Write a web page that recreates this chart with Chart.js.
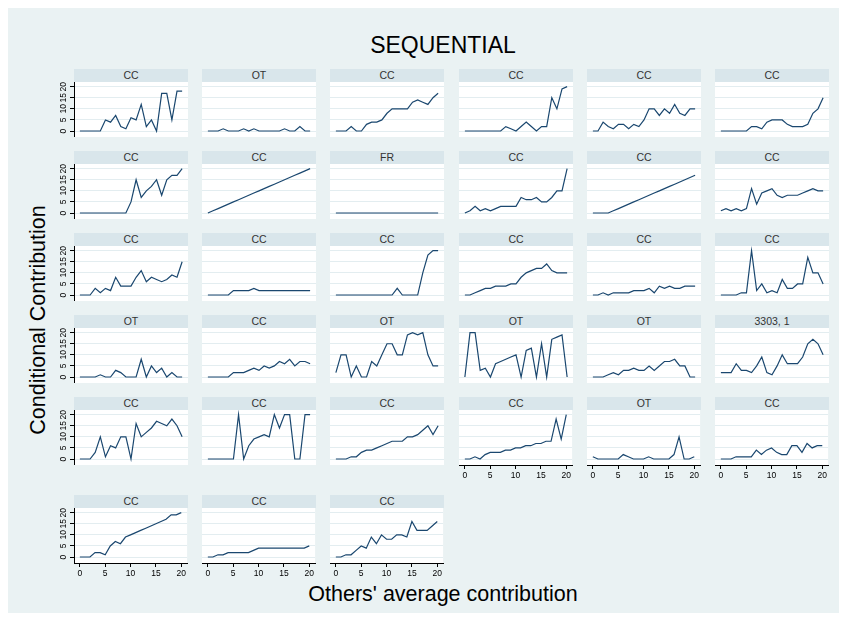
<!DOCTYPE html>
<html>
<head>
<meta charset="utf-8">
<script src="https://cdn.jsdelivr.net/npm/chart.js@4"></script>
<style>
  body { margin: 0; background: #fff; }
  #page { position: relative; width: 847px; height: 621px; overflow: hidden; background: #fff; font-family: "Liberation Sans", Arial, sans-serif; }
  #frame { position: absolute; left: 8px; top: 8px; width: 831px; height: 605px; background: #eaf2f3; }
  .hdr { position: absolute; height: 13px; line-height: 13px; background: #d9e6eb; color: #333; font-size: 10.5px; text-align: center; }
  .panel { position: absolute; }
  .txt { position: absolute; color: #000; white-space: nowrap; }
</style>
</head>
<body>
<div id="page">
  <div id="frame"></div>
  <div class="txt" id="title" style="left:0;width:886px;top:32px;text-align:center;font-size:23px;">SEQUENTIAL</div>
  <div class="txt" id="ytitle" style="left:38px;top:320px;font-size:21.5px;transform:translate(-50%,-50%) rotate(-90deg);">Conditional Contribution</div>
  <div class="txt" id="xtitle" style="left:0;width:886px;top:582px;text-align:center;font-size:21.5px;">Others' average contribution</div>
</div>
<script>
// valeurs
const xValues = [0,1,2,3,4,5,6,7,8,9,10,11,12,13,14,15,16,17,18,19,20];
const xTicks = [0,5,10,15,20];
const yTicks = [0,5,10,15,20];

const panelLabels = [
  'CC','OT','CC','CC','CC','CC',
  'CC','CC','FR','CC','CC','CC',
  'CC','CC','CC','CC','CC','CC',
  'OT','CC','OT','OT','OT','3303, 1',
  'CC','CC','CC','CC','OT','CC',
  'CC','CC','CC'
];

const p01 = [0,0,0,0,0,5,4,7,2,1,6,5,12,2,5,0,17,17,5,18,18];
const p02 = [0,0,0,1,0,0,0,1,0,1,0,0,0,0,0,1,0,0,2,0,0];
const p03 = [0,0,0,2,0,0,3,4,4,5,8,10,10,10,10,13,14,13,12,15,17];
const p04 = [0,0,0,0,0,0,0,0,2,1,0,2,4,2,0,2,2,15,10,19,20];
const p05 = [0,0,4,2,1,3,3,1,3,2,5,10,10,7,10,8,12,8,7,10,10];
const p06 = [0,0,0,0,0,0,2,2,1,4,5,5,5,3,2,2,2,3,8,10,15];
const p07 = [0,0,0,0,0,0,0,0,0,0,5,15,7,10,12,15,8,15,17,17,20];
const p08 = [0,1,2,3,4,5,6,7,8,9,10,11,12,13,14,15,16,17,18,19,20];
const p09 = [0,0,0,0,0,0,0,0,0,0,0,0,0,0,0,0,0,0,0,0,0];
const p10 = [0,1,3,1,2,1,2,3,3,3,3,7,6,6,7,5,5,7,10,10,20];
const p11 = [0,0,0,0,1,2,3,4,5,6,7,8,9,10,11,12,13,14,15,16,17];
const p12 = [1,2,1,2,1,2,11,4,9,10,11,8,7,8,8,8,9,10,11,10,10];
const p13 = [0,0,0,3,1,3,2,8,4,4,4,8,11,6,8,7,6,7,9,8,15];
const p14 = [0,0,0,0,0,2,2,2,2,3,2,2,2,2,2,2,2,2,2,2,2];
const p15 = [0,0,0,0,0,0,0,0,0,0,0,0,3,0,0,0,0,10,18,20,20];
const p16 = [0,0,1,2,3,3,4,4,4,5,5,8,10,11,12,12,14,11,10,10,10];
const p17 = [0,0,1,0,1,1,1,1,2,2,2,3,1,4,3,4,3,3,4,4,4];
const p18 = [0,0,0,0,1,1,20,2,5,1,2,1,7,3,3,5,5,17,10,10,5];
const p19 = [0,0,0,0,1,0,0,3,2,0,0,0,8,0,5,2,4,0,2,0,0];
const p20 = [0,0,0,0,0,2,2,2,3,4,3,5,4,5,7,6,8,5,7,7,6];
const p21 = [2,10,10,0,5,0,0,7,5,10,15,15,10,10,19,20,19,20,10,5,5];
const p22 = [0,20,20,3,4,0,6,7,8,9,10,0,12,13,0,15,0,17,18,19,0];
const p23 = [0,0,0,1,2,1,3,3,4,3,3,5,3,5,7,7,8,5,5,0,0];
const p24 = [2,2,2,6,3,3,2,5,9,2,1,5,10,6,6,6,9,15,17,15,10];
const p25 = [0,0,0,3,10,1,6,5,10,10,0,16,10,12,14,17,16,15,18,15,10];
const p26 = [0,0,0,0,0,0,20,0,6,9,10,11,10,20,14,20,20,0,0,20,20];
const p27 = [0,0,0,1,1,3,4,4,5,6,7,8,8,8,10,10,11,13,15,11,15];
const p28 = [0,0,1,0,2,3,3,3,4,4,5,5,6,6,7,7,8,8,18,9,20];
const p29 = [1,0,0,0,0,0,2,1,0,0,0,1,0,0,0,0,2,10,0,0,1];
const p30 = [0,0,0,1,1,1,1,4,2,4,5,3,2,2,6,6,3,7,5,6,6];
const p31 = [0,0,0,2,2,1,5,7,6,9,10,11,12,13,14,15,16,17,19,19,20];
const p32 = [0,0,1,1,2,2,2,2,2,3,4,4,4,4,4,4,4,4,4,4,5];
const p33 = [0,0,1,1,3,5,4,9,6,10,8,8,10,10,9,16,12,12,12,14,16];

const panelSeries = [p01,p02,p03,p04,p05,p06,p07,p08,p09,p10,p11,p12,p13,p14,p15,p16,p17,
  p18,p19,p20,p21,p22,p23,p24,p25,p26,p27,p28,p29,p30,p31,p32,p33];

// grille des panneaux
const colLefts = [74, 202, 330, 459, 587, 715];
const rowTops = [82, 164, 246, 328, 410, 508];
const plotW = 114, plotH = 55;
const fontFam = '"Liberation Sans", Arial, sans-serif';

// fond blanc de la zone de tracé
const whitePlot = {
  id: 'whitePlot',
  beforeDraw(chart) {
    const a = chart.chartArea, ctx = chart.ctx;
    ctx.save();
    ctx.fillStyle = '#ffffff';
    ctx.fillRect(a.left, a.top, a.right - a.left, a.bottom - a.top);
    ctx.restore();
  }
};

// étiquettes verticales de l'axe y (texte tourné comme dans Stata)
const yRotLabels = {
  id: 'yRotLabels',
  afterDraw(chart, args, opts) {
    if (!opts.show) return;
    const s = chart.scales.y, ctx = chart.ctx;
    ctx.save();
    ctx.font = '8.5px ' + fontFam;
    ctx.fillStyle = '#000';
    ctx.textAlign = 'center';
    ctx.textBaseline = 'middle';
    s.ticks.forEach(t => {
      const py = s.getPixelForValue(t.value);
      ctx.save();
      ctx.translate(s.right - 10, py);
      ctx.rotate(-Math.PI / 2);
      ctx.fillText(String(t.value), 0, 0);
      ctx.restore();
    });
    ctx.restore();
  }
};

const page = document.getElementById('page');

panelSeries.forEach((vals, i) => {
  const row = Math.floor(i / 6), col = i % 6;
  const hasY = col === 0;
  const hasX = row === 5 || (row === 4 && col >= 3);
  const padL = hasY ? 26 : 0;
  const padB = hasX ? 22 : 0;

  const hdr = document.createElement('div');
  hdr.className = 'hdr';
  hdr.style.left = colLefts[col] + 'px';
  hdr.style.top = (rowTops[row] - 13) + 'px';
  hdr.style.width = plotW + 'px';
  hdr.textContent = panelLabels[i];
  page.appendChild(hdr);

  const canvas = document.createElement('canvas');
  canvas.className = 'panel';
  canvas.width = plotW + padL;
  canvas.height = plotH + padB;
  canvas.style.width = (plotW + padL) + 'px';
  canvas.style.height = (plotH + padB) + 'px';
  canvas.style.left = (colLefts[col] - padL) + 'px';
  canvas.style.top = rowTops[row] + 'px';
  page.appendChild(canvas);

  new Chart(canvas, {
    type: 'line',
    data: {
      datasets: [{
        data: xValues.map((x, j) => ({ x: x, y: vals[j] })),
        borderColor: '#1a476f',
        borderWidth: 1.2,
        pointRadius: 0,
        tension: 0
      }]
    },
    options: {
      responsive: false,
      animation: false,
      events: [],
      layout: { padding: 0, autoPadding: false },
      plugins: {
        legend: { display: false },
        tooltip: { enabled: false },
        yRotLabels: { show: hasY }
      },
      scales: {
        x: {
          type: 'linear',
          min: -1.15,
          max: 21.15,
          display: hasX,
          afterBuildTicks: s => { s.ticks = xTicks.map(v => ({ value: v })); },
          afterFit: s => { s.height = padB; },
          grid: { drawOnChartArea: false, drawTicks: true, tickLength: 4, tickColor: '#000' },
          border: { display: true, color: '#000' },
          ticks: { maxRotation: 0, autoSkip: false, padding: 2, color: '#000', font: { size: 8.5, family: fontFam } }
        },
        y: {
          min: -2.7,
          max: 22.1,
          afterBuildTicks: s => { s.ticks = yTicks.map(v => ({ value: v })); },
          afterFit: s => { s.width = padL; },
          grid: { color: '#e3edf0', lineWidth: 1, drawTicks: hasY, tickLength: 4, tickColor: '#000' },
          border: { display: hasY, color: '#000' },
          ticks: { display: false }
        }
      }
    },
    plugins: [whitePlot, yRotLabels]
  });
});
</script>
</body>
</html>
